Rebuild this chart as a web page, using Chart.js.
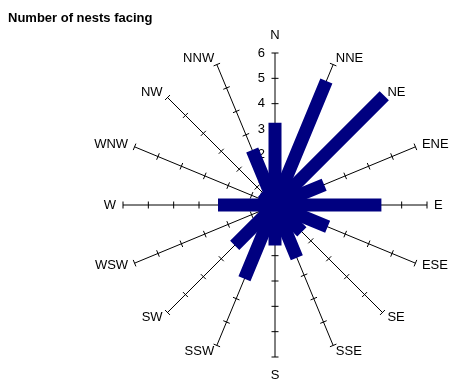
<!DOCTYPE html>
<html>
<head>
<meta charset="utf-8">
<script src="https://cdn.jsdelivr.net/npm/chart.js@4.4.1/dist/chart.umd.min.js"></script>
<style>
  html, body { margin: 0; padding: 0; background: #fff; }
  .wrap { position: relative; width: 468px; height: 381px; }
  .title {
    position: absolute; left: 8px; top: 10px;
    font: bold 13px/15px "Liberation Sans", Arial, sans-serif; color: #000;
  }
  canvas { display: block; }
</style>
</head>
<body>
<div class="wrap">
  <div class="title">Number of nests facing</div>
  <canvas id="rose" width="468" height="381"></canvas>
</div>
<script>
/* ── Data ── */
const DIRECTIONS  = ['N','NNE','NE','ENE','E','ESE','SE','SSE','S','SSW','SW','WSW','W','WNW','NW','NNW'];
const NEST_COUNTS = [3.25, 5.3, 6.1, 2.1, 4.2, 2.25, 1.5, 2.25, 1.6, 3.15, 2.25, 0.7, 2.25, 0.7, 0.7, 2.35];
const AXIS_TICKS  = [0, 1, 2, 3, 4, 5, 6];

const NAVY = '#000080';
const FONT = '13px "Liberation Sans", Arial, sans-serif';

/* ── Spoke ticks, value labels, direction labels ── */
const axisDecor = {
  id: 'axisDecor',
  beforeDatasetsDraw(chart) {
    const r = chart.scales.r, c = chart.ctx;
    c.save();
    c.strokeStyle = '#000'; c.lineWidth = 1;
    DIRECTIONS.forEach((_, i) => {
      const a = r.getIndexAngle(i) - Math.PI / 2;
      const px = -Math.sin(a), py = Math.cos(a);
      AXIS_TICKS.slice(1).forEach(v => {
        const p = r.getPointPositionForValue(i, v);
        c.beginPath();
        c.moveTo(p.x + px * 3.5, p.y + py * 3.5);
        c.lineTo(p.x - px * 3.5, p.y - py * 3.5);
        c.stroke();
      });
    });
    c.fillStyle = '#000'; c.font = FONT;
    c.textAlign = 'right'; c.textBaseline = 'middle';
    AXIS_TICKS.forEach(v => {
      c.fillText(String(v), r.xCenter - 10, r.yCenter - r.getDistanceFromCenterForValue(v));
    });
    c.restore();
  },
  afterDraw(chart) {
    const r = chart.scales.r, c = chart.ctx;
    c.save();
    c.fillStyle = '#000'; c.font = FONT; c.textBaseline = 'middle';
    DIRECTIONS.forEach((lbl, i) => {
      const deg = i * 360 / DIRECTIONS.length;
      const pad = (deg === 0 || deg === 180) ? 18 : 7;
      const p = r.getPointPosition(i, r.drawingArea + pad);
      c.textAlign = (deg === 0 || deg === 180) ? 'center' : deg < 180 ? 'left' : 'right';
      c.fillText(lbl, p.x, p.y);
    });
    c.restore();
  }
};

/* ── One thick spoke per direction ── */
const datasets = DIRECTIONS.map((d, i) => ({
  label: d,
  data: NEST_COUNTS.map((v, j) => (j === i ? v : 0)),
  borderColor: NAVY, borderWidth: 13, borderJoinStyle: 'miter',
  backgroundColor: 'rgba(0,0,0,0)', fill: false, tension: 0,
  pointRadius: 0, pointHoverRadius: 0
}));

new Chart(document.getElementById('rose'), {
  type: 'radar',
  data: { labels: DIRECTIONS, datasets },
  options: {
    responsive: false, animation: false, events: [],
    layout: { padding: { left: 123, top: 53, right: 41, bottom: 24 } },
    plugins: { legend: { display: false }, tooltip: { enabled: false }, title: { display: false } },
    scales: {
      r: {
        min: 0, max: 6,
        ticks: { display: false, stepSize: 1 },
        grid: { display: false },
        angleLines: { display: true, color: '#000', lineWidth: 1 },
        pointLabels: { display: false }
      }
    }
  },
  plugins: [axisDecor]
});
</script>
</body>
</html>
